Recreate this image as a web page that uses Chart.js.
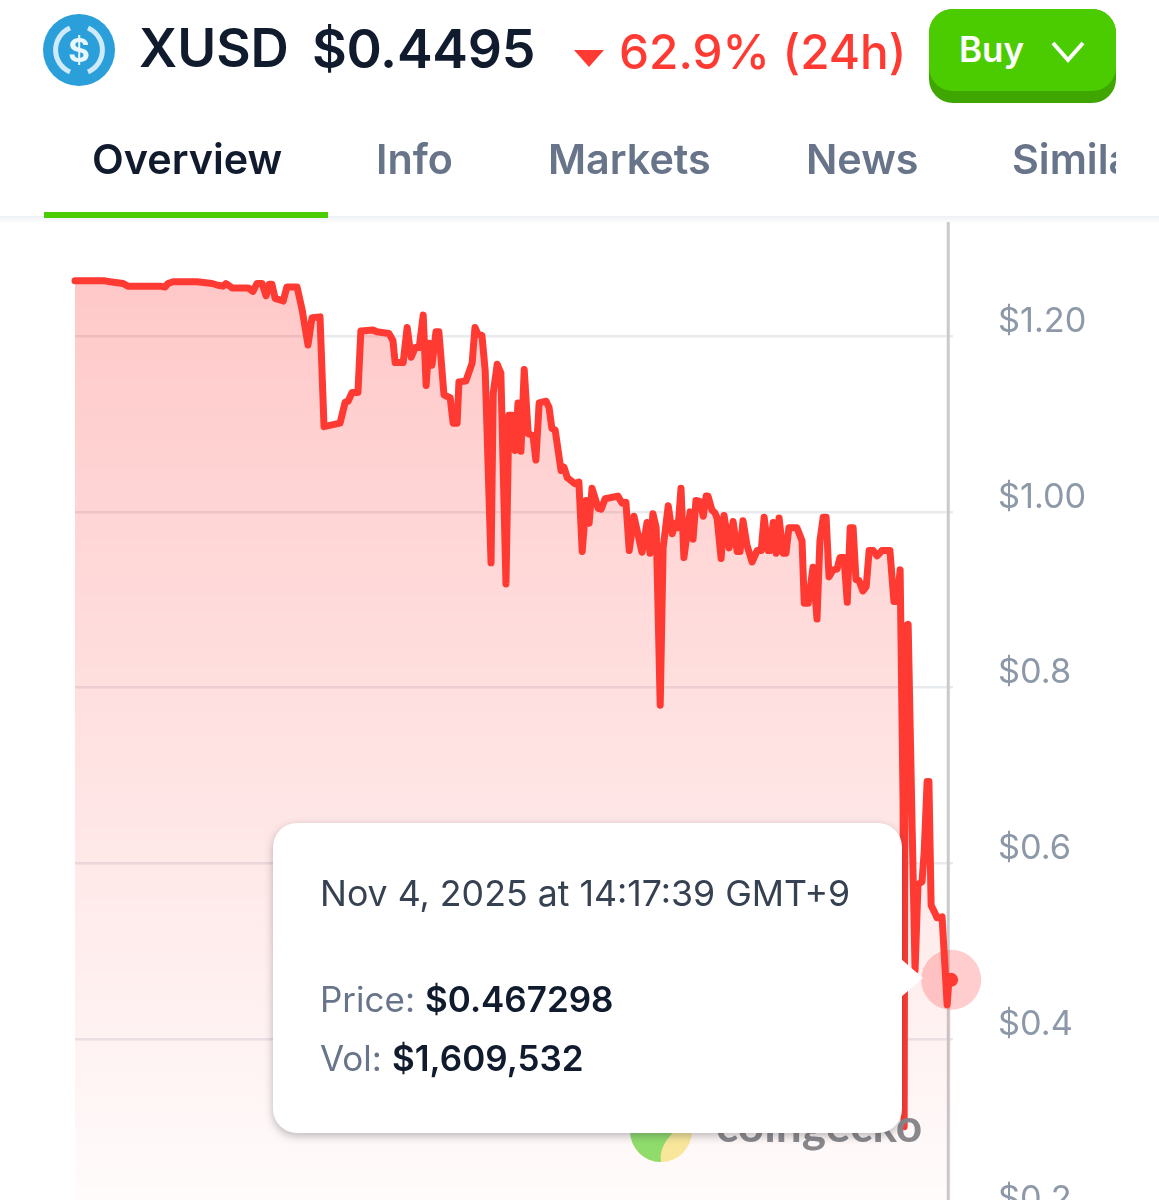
<!DOCTYPE html>
<html>
<head>
<meta charset="utf-8">
<title>XUSD</title>
<script src="https://cdn.jsdelivr.net/npm/chart.js@4"></script>
<style>
  html, body { margin: 0; padding: 0; background: #fff; width: 1159px; height: 1200px; overflow: hidden; font-family: Inter, "Noto Sans", sans-serif; }
  .abs { position: absolute; white-space: nowrap; line-height: 1; }
  #chart { position: absolute; left: 0; top: 0; }
  #tabs { position: absolute; left: 44px; top: 120px; width: 1072px; height: 98px; overflow: hidden; }
  #tabs span { position: absolute; top: 17px; font-size: 41.3px; font-weight: 600; color: #677489; line-height: 1.1; white-space: nowrap; }
  #tabs span.active { color: #111b2e; }
  #tabs i { position: absolute; left: 0; top: 92px; width: 284px; height: 6px; background: #4bcc00; }
  #rule { position: absolute; left: 0; top: 216px; width: 1159px; height: 6px; background: linear-gradient(#eef1f4, #fafbfc); }
  #buy { position: absolute; left: 929px; top: 9px; width: 187px; height: 94px; border-radius: 24px; background: #3fa600; }
  #buy div { position: absolute; left: 0; top: 0; width: 187px; height: 82px; border-radius: 24px; background: #4bcc00; }
  #tip { position: absolute; left: 273px; top: 823px; width: 629px; height: 310px; background: #fff; border-radius: 24px; box-shadow: 0 3px 8px rgba(60,60,70,.35); }
  #arrow { position: absolute; left: 901px; top: 959px; width: 22px; height: 38px; background: #fff; clip-path: polygon(0 0, 100% 50%, 0 100%); }
  .tt { font-size: 35.7px; color: #364152; }
  .lbl { font-size: 35px; color: #677489; }
  .val { font-size: 35px; color: #111b2e; font-weight: 600; }
</style>
</head>
<body>
<canvas id="chart" width="1159" height="1289"></canvas>

<!-- header -->
<svg class="abs" style="left:43px;top:14px" width="72" height="72" viewBox="0 0 72 72">
  <circle cx="36" cy="36" r="36" fill="#2a9fd9"/>
  <path d="M27 14 A24 24 0 0 0 27 58 M45 14 A24 24 0 0 1 45 58" fill="none" stroke="#cfeafa" stroke-width="5"/>
  <text x="36" y="48" text-anchor="middle" font-family="Inter" font-weight="700" font-size="33" fill="#e8f6fd">$</text>
</svg>
<div class="abs" style="left:139px;top:22px;font-size:53px;font-weight:600;color:#111b2e">XUSD</div>
<div class="abs" style="left:312px;top:22px;font-size:53.6px;font-weight:600;color:#111b2e;letter-spacing:-0.3px">$0.4495</div>
<svg class="abs" style="left:573px;top:49px" width="32" height="19"><path d="M1 1 H31 L16 18 Z" fill="#ff3a33"/></svg>
<div class="abs" style="left:619px;top:29px;font-size:47.7px;font-weight:500;color:#ff3a33">62.9% (24h)</div>
<div id="buy"><div></div></div>
<div class="abs" style="left:959px;top:32px;font-size:35px;font-weight:600;color:#fff">Buy</div>
<svg class="abs" style="left:1050px;top:40px" width="36" height="24"><path d="M3 3 L18 20 L33 3" fill="none" stroke="#fff" stroke-width="4"/></svg>

<div id="rule"></div>
<div id="tabs">
  <span class="active" style="left:48px">Overview</span>
  <span style="left:332px">Info</span>
  <span style="left:504px">Markets</span>
  <span style="left:762px">News</span>
  <span style="left:968px">Similar</span>
  <i></i>
</div>

<!-- watermark sits under the tooltip -->
<svg class="abs" style="left:629px;top:1100px" width="64" height="64" viewBox="0 0 64 64">
  <circle cx="32" cy="31" r="31" fill="#f8e79b"/>
  <path d="M32 0 A31 31 0 0 0 32 62 C30 48 38 36 60 18 A31 31 0 0 0 32 0 Z" fill="#8fdc6c"/>
</svg>
<div class="abs" style="left:716px;top:1102px;font-size:46px;font-weight:700;color:#87878c;font-family:Lato,Inter,sans-serif">coingecko</div>

<div id="tip">
  <div class="abs tt" style="left:47px;top:53px">Nov 4, 2025 at 14:17:39 GMT+9</div>
  <div class="abs lbl" style="left:47px;top:159px">Price:</div>
  <div class="abs val" style="left:152px;top:159px">$0.467298</div>
  <div class="abs lbl" style="left:47px;top:218px">Vol:</div>
  <div class="abs val" style="left:119px;top:218px">$1,609,532</div>
</div>
<div id="arrow"></div>

<script>
// hours since start of the 24h window
const timeHours = [
  0, 0.82, 0.96, 1.32, 1.45, 2.33, 2.47, 2.55, 2.69, 3.35, 3.76, 3.92, 4.06, 4.14, 4.31, 4.75, 4.88, 4.99, 5.13, 5.24,
  5.32, 5.40, 5.49, 5.57, 5.71, 5.81, 6.09, 6.23, 6.39, 6.50, 6.72, 6.83, 7.27, 7.41, 7.49, 7.60, 7.76, 7.84, 8.17, 8.28,
  8.61, 8.72, 8.78, 9.00, 9.11, 9.22, 9.33, 9.44, 9.55, 9.63, 9.71, 9.79, 9.90, 9.98, 10.12, 10.29, 10.37, 10.48, 10.53, 10.72,
  10.89, 10.97, 11.05, 11.16, 11.25, 11.41, 11.47, 11.58, 11.68, 11.82, 11.90, 11.99, 12.07, 12.15, 12.23, 12.32, 12.43, 12.56, 12.64, 12.73,
  12.92, 13.00, 13.08, 13.17, 13.33, 13.41, 13.50, 13.71, 13.82, 13.91, 14.02, 14.10, 14.18, 14.35, 14.43, 14.54, 14.89, 15.00, 15.11, 15.20,
  15.33, 15.55, 15.69, 15.77, 15.85, 15.94, 16.05, 16.13, 16.27, 16.38, 16.46, 16.54, 16.62, 16.70, 16.87, 16.95, 17.03, 17.14, 17.23, 17.31,
  17.36, 17.47, 17.55, 17.61, 17.72, 17.80, 17.94, 18.05, 18.16, 18.24, 18.32, 18.43, 18.57, 18.71, 18.82, 18.90, 19.01, 19.06, 19.15, 19.23,
  19.31, 19.42, 19.50, 19.58, 19.80, 19.94, 20.00, 20.11, 20.24, 20.35, 20.43, 20.52, 20.60, 20.68, 20.79, 20.90, 20.98, 21.09, 21.18, 21.26,
  21.34, 21.42, 21.50, 21.61, 21.70, 21.78, 21.89, 22.00, 22.13, 22.35, 22.46, 22.55, 22.63, 22.71, 22.74, 22.77, 22.85, 22.96, 23.04, 23.12,
  23.23, 23.29, 23.37, 23.42, 23.48, 23.59, 23.64, 23.78, 23.92, 23.97, 24.03
];

const priceUsd = [
  1.263, 1.263, 1.262, 1.260, 1.257, 1.257, 1.256, 1.260, 1.262, 1.262, 1.260, 1.258, 1.257, 1.260, 1.255, 1.255, 1.251, 1.260, 1.260, 1.246,
  1.259, 1.259, 1.243, 1.242, 1.240, 1.256, 1.256, 1.230, 1.190, 1.221, 1.222, 1.097, 1.101, 1.125, 1.126, 1.136, 1.136, 1.206, 1.207, 1.205,
  1.203, 1.195, 1.170, 1.170, 1.210, 1.176, 1.187, 1.187, 1.224, 1.144, 1.192, 1.167, 1.205, 1.205, 1.133, 1.130, 1.101, 1.101, 1.148, 1.149,
  1.169, 1.210, 1.202, 1.201, 1.161, 0.942, 1.135, 1.168, 1.158, 0.918, 1.110, 1.110, 1.070, 1.124, 1.069, 1.162, 1.089, 1.087, 1.059, 1.124,
  1.126, 1.119, 1.095, 1.093, 1.047, 1.051, 1.039, 1.032, 1.034, 0.955, 1.013, 0.987, 1.027, 1.004, 1.003, 1.015, 1.018, 1.010, 1.011, 0.956,
  0.995, 0.954, 0.988, 0.953, 0.998, 0.982, 0.780, 0.959, 1.007, 0.975, 0.987, 0.982, 1.027, 0.948, 1.000, 0.969, 1.013, 1.012, 0.995, 1.018,
  1.018, 1.002, 0.999, 0.993, 0.947, 0.996, 0.959, 0.989, 0.955, 0.955, 0.990, 0.962, 0.943, 0.956, 0.956, 0.994, 0.956, 0.956, 0.988, 0.953,
  0.993, 0.953, 0.953, 0.982, 0.982, 0.967, 0.896, 0.896, 0.937, 0.878, 0.967, 0.994, 0.994, 0.926, 0.934, 0.935, 0.948, 0.948, 0.897, 0.982,
  0.982, 0.923, 0.922, 0.910, 0.915, 0.956, 0.956, 0.950, 0.956, 0.956, 0.898, 0.898, 0.934, 0.671, 0.300, 0.870, 0.872, 0.640, 0.478, 0.576,
  0.579, 0.613, 0.693, 0.693, 0.552, 0.543, 0.538, 0.539, 0.439, 0.468, 0.467298
];

const tickValues = [1.2, 1.0, 0.8, 0.6, 0.4, 0.2];
const tickLabels = ["$1.20", "$1.00", "$0.8", "$0.6", "$0.4", "$0.2"];

const lastHour = timeHours[timeHours.length - 1];
const lastPrice = priceUsd[priceUsd.length - 1];
const crosshairHour = 23.95;

const crosshair = {
  id: "crosshair",
  beforeDatasetsDraw(chart) {
    const { ctx, chartArea, scales } = chart;
    const x = scales.x.getPixelForValue(crosshairHour);
    ctx.save();
    ctx.strokeStyle = "#c8cacc";
    ctx.lineWidth = 3;
    ctx.beginPath();
    ctx.moveTo(x, chartArea.top);
    ctx.lineTo(x, chartArea.bottom);
    ctx.stroke();
    ctx.restore();
  }
};

new Chart(document.getElementById("chart"), {
  type: "line",
  data: {
    datasets: [
      {
        data: timeHours.map((t, i) => ({ x: t, y: priceUsd[i] })),
        borderColor: "#ff3a33",
        borderWidth: 7,
        borderJoinStyle: "round",
        borderCapStyle: "round",
        tension: 0,
        fill: "start",
        clip: false,
        backgroundColor: (c) => {
          const area = c.chart.chartArea;
          if (!area) return "rgba(255,58,51,0.2)";
          const g = c.chart.ctx.createLinearGradient(0, area.top + 50, 0, area.bottom);
          g.addColorStop(0, "rgba(255,50,50,0.27)");
          g.addColorStop(1, "rgba(255,50,50,0.01)");
          return g;
        },
        pointRadius: (c) => (c.dataIndex === timeHours.length - 1 ? 7 : 0),
        pointBackgroundColor: "#ff3a33",
        pointBorderWidth: 0,
        order: 1
      },
      {
        // highlight ring round the hovered point
        data: [{ x: lastHour, y: lastPrice }],
        showLine: false,
        pointRadius: 30,
        pointBorderWidth: 0,
        pointBackgroundColor: "rgba(255,70,70,0.27)",
        clip: false,
        order: 2
      }
    ]
  },
  options: {
    responsive: false,
    animation: false,
    layout: { padding: { left: 75, top: 222, right: 0, bottom: 0 } },
    plugins: { legend: { display: false }, tooltip: { enabled: false } },
    scales: {
      x: { type: "linear", display: false, min: 0, max: 24.08 },
      y: {
        position: "right",
        min: 0.19,
        max: 1.33,
        afterFit: (s) => { s.width = 206; },
        afterBuildTicks: (s) => { s.ticks = tickValues.map((v) => ({ value: v })); },
        border: { display: false },
        grid: { color: "#e8ebee", lineWidth: 2.5, drawTicks: false },
        ticks: {
          padding: 45,
          labelOffset: -14.5,
          color: "#8d99a8",
          font: { family: "Inter", size: 34.3 },
          callback: (v) => tickLabels[tickValues.indexOf(v)]
        }
      }
    }
  },
  plugins: [crosshair]
});
</script>
</body>
</html>
